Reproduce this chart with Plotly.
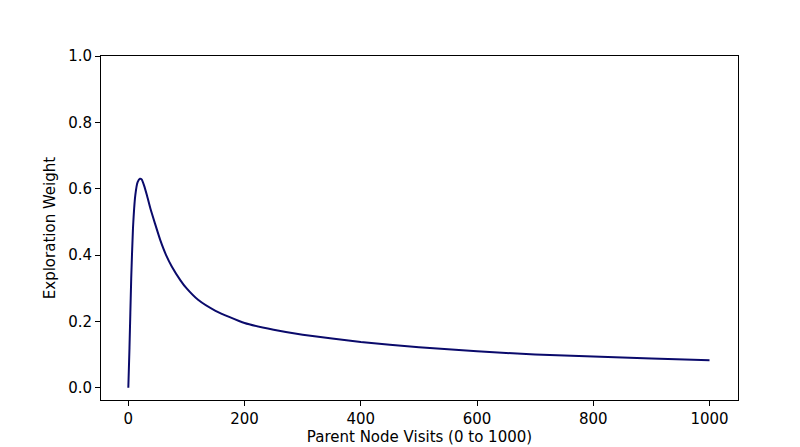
import plotly.graph_objects as go

visits = [0, 2, 5, 8, 12, 16, 20, 23, 27, 32, 38, 45, 55, 65, 75, 90, 100, 120, 150,
          200, 250, 300, 400, 500, 600, 700, 800, 900, 1000]
weight = [0.0, 0.12, 0.33, 0.48, 0.58, 0.62, 0.63, 0.628, 0.61, 0.58, 0.54, 0.50,
          0.445, 0.40, 0.365, 0.323, 0.30, 0.265, 0.232, 0.195, 0.175, 0.16, 0.138,
          0.122, 0.11, 0.10, 0.094, 0.088, 0.083]

fig = go.Figure(go.Scatter(x=visits, y=weight, mode="lines",
                           line=dict(color="#0a0a6b", width=2, shape="spline", smoothing=0.5)))

axis = dict(showgrid=False, zeroline=False, showline=True, linecolor="black", linewidth=1,
            mirror=True, ticks="outside", ticklen=5, tickcolor="black",
            tickfont=dict(size=15, color="black"))
fig.update_xaxes(axis, range=[-47, 1049], tickvals=[0, 200, 400, 600, 800, 1000],
                 title=dict(text="Parent Node Visits (0 to 1000)", font=dict(size=15, color="black"), standoff=4))
fig.update_yaxes(axis, range=[-0.037, 1.0], tickvals=[0, 0.2, 0.4, 0.6, 0.8, 1.0],
                 tickformat=".1f",
                 title=dict(text="Exploration Weight", font=dict(size=15, color="black"), standoff=8))
fig.update_layout(width=800, height=447, margin=dict(l=93, r=70, t=48, b=47),
                  plot_bgcolor="white", paper_bgcolor="white", showlegend=False,
                  font=dict(family="DejaVu Sans"))
fig.write_html("out.html")
